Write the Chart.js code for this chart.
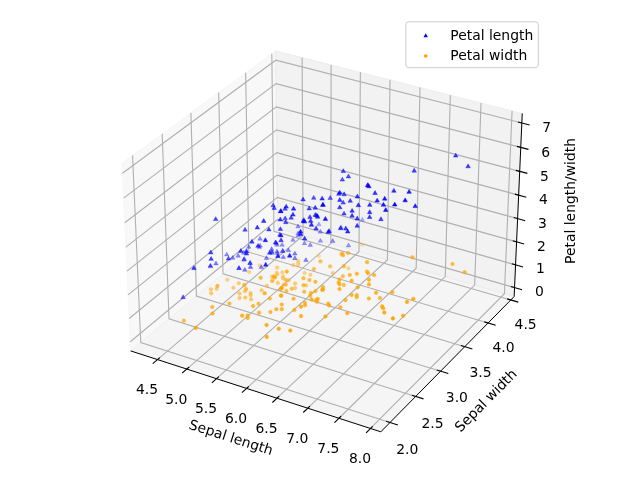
<!DOCTYPE html>
<html>
<head>
<meta charset="utf-8">
<script src="https://cdn.jsdelivr.net/npm/chart.js@4.4.1/dist/chart.umd.min.js"></script>
<style>
  html, body { margin: 0; padding: 0; background: #fff; }
  #wrap { width: 640px; height: 480px; }
</style>
</head>
<body>
<div id="wrap"><canvas id="chart" width="640" height="480"></canvas></div>
<script>
// Iris data set, one entry per flower
const sepalLength = [5.1,4.9,4.7,4.6,5.0,5.4,4.6,5.0,4.4,4.9,5.4,4.8,4.8,4.3,5.8,5.7,5.4,5.1,5.7,5.1,5.4,5.1,4.6,5.1,4.8,5.0,5.0,5.2,5.2,4.7,4.8,5.4,5.2,5.5,4.9,5.0,5.5,4.9,4.4,5.1,5.0,4.5,4.4,5.0,5.1,4.8,5.1,4.6,5.3,5.0,
  7.0,6.4,6.9,5.5,6.5,5.7,6.3,4.9,6.6,5.2,5.0,5.9,6.0,6.1,5.6,6.7,5.6,5.8,6.2,5.6,5.9,6.1,6.3,6.1,6.4,6.6,6.8,6.7,6.0,5.7,5.5,5.5,5.8,6.0,5.4,6.0,6.7,6.3,5.6,5.5,5.5,6.1,5.8,5.0,5.6,5.7,5.7,6.2,5.1,5.7,
  6.3,5.8,7.1,6.3,6.5,7.6,4.9,7.3,6.7,7.2,6.5,6.4,6.8,5.7,5.8,6.4,6.5,7.7,7.7,6.0,6.9,5.6,7.7,6.3,6.7,7.2,6.2,6.1,6.4,7.2,7.4,7.9,6.4,6.3,6.1,7.7,6.3,6.4,6.0,6.9,6.7,6.9,5.8,6.8,6.7,6.7,6.3,6.5,6.2,5.9];
const sepalWidth = [3.5,3.0,3.2,3.1,3.6,3.9,3.4,3.4,2.9,3.1,3.7,3.4,3.0,3.0,4.0,4.4,3.9,3.5,3.8,3.8,3.4,3.7,3.6,3.3,3.4,3.0,3.4,3.5,3.4,3.2,3.1,3.4,4.1,4.2,3.1,3.2,3.5,3.6,3.0,3.4,3.5,2.3,3.2,3.5,3.8,3.0,3.8,3.2,3.7,3.3,
  3.2,3.2,3.1,2.3,2.8,2.8,3.3,2.4,2.9,2.7,2.0,3.0,2.2,2.9,2.9,3.1,3.0,2.7,2.2,2.5,3.2,2.8,2.5,2.8,2.9,3.0,2.8,3.0,2.9,2.6,2.4,2.4,2.7,2.7,3.0,3.4,3.1,2.3,3.0,2.5,2.6,3.0,2.6,2.3,2.7,3.0,2.9,2.9,2.5,2.8,
  3.3,2.7,3.0,2.9,3.0,3.0,2.5,2.9,2.5,3.6,3.2,2.7,3.0,2.5,2.8,3.2,3.0,3.8,2.6,2.2,3.2,2.8,2.8,2.7,3.3,3.2,2.8,3.0,2.8,3.0,2.8,3.8,2.8,2.8,2.6,3.0,3.4,3.1,3.0,3.1,3.1,3.1,2.7,3.2,3.3,3.0,2.5,3.0,3.4,3.0];
const petalLength = [1.4,1.4,1.3,1.5,1.4,1.7,1.4,1.5,1.4,1.5,1.5,1.6,1.4,1.1,1.2,1.5,1.3,1.4,1.7,1.5,1.7,1.5,1.0,1.7,1.9,1.6,1.6,1.5,1.4,1.6,1.6,1.5,1.5,1.4,1.5,1.2,1.3,1.4,1.3,1.5,1.3,1.3,1.3,1.6,1.9,1.4,1.6,1.4,1.5,1.4,
  4.7,4.5,4.9,4.0,4.6,4.5,4.7,3.3,4.6,3.9,3.5,4.2,4.0,4.7,3.6,4.4,4.5,4.1,4.5,3.9,4.8,4.0,4.9,4.7,4.3,4.4,4.8,5.0,4.5,3.5,3.8,3.7,3.9,5.1,4.5,4.5,4.7,4.4,4.1,4.0,4.4,4.6,4.0,3.3,4.2,4.2,4.2,4.3,3.0,4.1,
  6.0,5.1,5.9,5.6,5.8,6.6,4.5,6.3,5.8,6.1,5.1,5.3,5.5,5.0,5.1,5.3,5.5,6.7,6.9,5.0,5.7,4.9,6.7,4.9,5.7,6.0,4.8,4.9,5.6,5.8,6.1,6.4,5.6,5.1,5.6,6.1,5.6,5.5,4.8,5.4,5.6,5.1,5.1,5.9,5.7,5.2,5.0,5.2,5.4,5.1];
const petalWidth = [0.2,0.2,0.2,0.2,0.2,0.4,0.3,0.2,0.2,0.1,0.2,0.2,0.1,0.1,0.2,0.4,0.4,0.3,0.3,0.3,0.2,0.4,0.2,0.5,0.2,0.2,0.4,0.2,0.2,0.2,0.2,0.4,0.1,0.2,0.2,0.2,0.2,0.1,0.2,0.2,0.3,0.3,0.2,0.6,0.4,0.3,0.2,0.2,0.2,0.2,
  1.4,1.5,1.5,1.3,1.5,1.3,1.6,1.0,1.3,1.4,1.0,1.5,1.0,1.4,1.3,1.4,1.5,1.0,1.5,1.1,1.8,1.3,1.5,1.2,1.3,1.4,1.4,1.7,1.5,1.0,1.1,1.0,1.2,1.6,1.5,1.6,1.5,1.3,1.3,1.3,1.2,1.4,1.2,1.0,1.3,1.2,1.3,1.3,1.1,1.3,
  2.5,1.9,2.1,1.8,2.2,2.1,1.7,1.8,1.8,2.5,2.0,1.9,2.1,2.0,2.4,2.3,1.8,2.2,2.3,1.5,2.3,2.0,2.0,1.8,2.1,1.8,1.8,1.8,2.1,1.6,1.9,2.0,2.2,1.5,1.4,2.3,2.4,1.8,1.8,2.1,2.4,2.3,1.9,2.3,2.5,2.3,1.9,2.0,2.3,1.8];

const seriesNames = ['Petal length', 'Petal width'];
const xTicks = [4.5, 5.0, 5.5, 6.0, 6.5, 7.0, 7.5, 8.0];
const yTicks = [2.0, 2.5, 3.0, 3.5, 4.0, 4.5];
const zTicks = [0, 1, 2, 3, 4, 5, 6, 7];

// pane extents (axis limits plus matplotlib's small view margin)
const xLim = [4.0375, 8.1625];
const yLim = [1.825, 4.575];
const zLim = [-0.396, 7.396];

// view like matplotlib's default 3D camera
const ELEV = 30, AZIM = -60, DIST = 10;
const BOX = [4, 4, 3].map(v => v * 1.8294640721620434 / Math.sqrt(41));
const SCALE = 2544, CX = 325.9, CY = 232.4;

const er = ELEV * Math.PI / 180, ar = AZIM * Math.PI / 180;
const nV = [Math.cos(er) * Math.cos(ar), Math.cos(er) * Math.sin(ar), Math.sin(er)];
let uV = [-nV[1], nV[0], 0];
const ul = Math.hypot(uV[0], uV[1]);
uV = uV.map(v => v / ul);
const vV = [nV[1] * uV[2] - nV[2] * uV[1], nV[2] * uV[0] - nV[0] * uV[2], nV[0] * uV[1] - nV[1] * uV[0]];
const dot = (a, b) => a[0] * b[0] + a[1] * b[1] + a[2] * b[2];

function proj(x, y, z) {
  const d = [
    (x - xLim[0]) / (xLim[1] - xLim[0]) * BOX[0] - BOX[0] / 2,
    (y - yLim[0]) / (yLim[1] - yLim[0]) * BOX[1] - BOX[1] / 2,
    (z - zLim[0]) / (zLim[1] - zLim[0]) * BOX[2] - BOX[2] / 2
  ];
  const w = DIST - dot(nV, d);
  return { x: dot(uV, d) / w, y: dot(vV, d) / w, depth: w };
}

function makePoints(zs, rgb) {
  const pts = zs.map((z, i) => proj(sepalLength[i], sepalWidth[i], z));
  const dmin = Math.min(...pts.map(p => p.depth));
  const dmax = Math.max(...pts.map(p => p.depth));
  pts.forEach(p => { p.alpha = 1 - 0.7 * (p.depth - dmin) / (dmax - dmin); });
  pts.sort((a, b) => b.depth - a.depth);
  return {
    data: pts.map(p => ({ x: p.x, y: p.y })),
    colors: pts.map(p => `rgba(${rgb},${p.alpha.toFixed(3)})`)
  };
}

const lenPts = makePoints(petalLength, '0,0,255');
const widPts = makePoints(petalWidth, '255,165,0');

const FS = 13.9;
const FONT = FS + 'px "DejaVu Sans"';
const DIGIT_MID = 0.36 * FS;   // half the height of a digit
const LINE_MID = 0.262 * FS;   // middle between ascender and descender

const axes3d = {
  id: 'axes3d',
  beforeDatasetsDraw(chart) {
    const ctx = chart.ctx, sx = chart.scales.x, sy = chart.scales.y;
    const P = (x, y, z) => {
      const p = proj(x, y, z);
      return [sx.getPixelForValue(p.x), sy.getPixelForValue(p.y)];
    };
    const [x0, x1] = xLim, [y0, y1] = yLim, [z0, z1] = zLim;
    const xr = x1 - x0, yr = y1 - y0;
    const poly = (pts, fill, stroke, lw) => {
      ctx.beginPath();
      pts.forEach((p, i) => { const q = P(...p); i ? ctx.lineTo(q[0], q[1]) : ctx.moveTo(q[0], q[1]); });
      if (fill) { ctx.closePath(); ctx.fillStyle = fill; ctx.fill(); }
      if (stroke) { ctx.strokeStyle = stroke; ctx.lineWidth = lw; ctx.stroke(); }
    };
    ctx.save();
    // panes
    poly([[x0, y0, z0], [x0, y1, z0], [x0, y1, z1], [x0, y0, z1]], 'rgba(242,242,242,0.5)', 'rgba(242,242,242,0.5)', 1);
    poly([[x0, y1, z0], [x1, y1, z0], [x1, y1, z1], [x0, y1, z1]], 'rgba(230,230,230,0.5)', 'rgba(230,230,230,0.5)', 1);
    poly([[x0, y0, z0], [x1, y0, z0], [x1, y1, z0], [x0, y1, z0]], 'rgba(236,236,236,0.5)', 'rgba(236,236,236,0.5)', 1);
    // grid
    xTicks.forEach(v => poly([[v, y0, z0], [v, y1, z0], [v, y1, z1]], null, '#b0b0b0', 1.1));
    yTicks.forEach(v => poly([[x1, v, z0], [x0, v, z0], [x0, v, z1]], null, '#b0b0b0', 1.1));
    zTicks.forEach(v => poly([[x0, y0, v], [x0, y1, v], [x1, y1, v]], null, '#b0b0b0', 1.1));
    // axis lines
    poly([[x0, y0, z0], [x1, y0, z0]], null, '#000', 1);
    poly([[x1, y0, z0], [x1, y1, z0]], null, '#000', 1);
    poly([[x1, y1, z0], [x1, y1, z1]], null, '#000', 1);
    // tick marks
    xTicks.forEach(v => poly([[v, y0 + 0.015 * yr, z0], [v, y0 - 0.03 * yr, z0]], null, '#000', 1.1));
    yTicks.forEach(v => poly([[x1 - 0.015 * xr, v, z0], [x1 + 0.03 * xr, v, z0]], null, '#000', 1.1));
    zTicks.forEach(v => poly([[x1 - 0.015 * xr, y1, v], [x1 + 0.03 * xr, y1, v]], null, '#000', 1.1));
    // tick labels (positions are the visual centres of the text)
    ctx.fillStyle = '#000';
    ctx.font = FONT;
    ctx.textAlign = 'center';
    ctx.textBaseline = 'alphabetic';
    const num = (t, cx, cy) => ctx.fillText(t, cx, cy + DIGIT_MID);
    xTicks.forEach(v => { const q = P(v, y0, z0); num(v.toFixed(1), q[0] - 10.5, q[1] + 29.7); });
    yTicks.forEach(v => {
      const q = P(x1, v, z0), f = (v - yTicks[0]) / (yTicks[yTicks.length - 1] - yTicks[0]);
      num(v.toFixed(1), q[0] + 17.3 - 2.5 * f, q[1] + 26.7 - 2.8 * f);
    });
    zTicks.forEach(v => {
      const q = P(x1, y1, v), f = (v - zTicks[0]) / (zTicks[zTicks.length - 1] - zTicks[0]);
      num(String(v), q[0] + 24.8, q[1] + 3.5 + 0.9 * f);
    });
    // axis titles
    const label = (text, a, b, dx, dy, rot) => {
      const m = [(a[0] + b[0]) / 2, (a[1] + b[1]) / 2];
      const ang = rot !== undefined ? rot : Math.atan2(b[1] - a[1], b[0] - a[0]);
      ctx.save();
      ctx.translate(m[0] + dx, m[1] + dy);
      ctx.rotate(ang);
      ctx.fillText(text, 0, LINE_MID);
      ctx.restore();
    };
    label('Sepal length', P(x0, y0, z0), P(x1, y0, z0), -25, 47);
    label('Sepal width', P(x1, y0, z0), P(x1, y1, z0), 39, 37);
    label('Petal length/width', P(x1, y1, z0), P(x1, y1, z1), 53, -4, -Math.PI / 2);
    ctx.restore();
  },
  afterDraw(chart) {
    const ctx = chart.ctx;
    ctx.save();
    // legend box
    const bx = 405.8, by = 21.8, bw = 132.5, bh = 45.9, r = 3;
    ctx.beginPath();
    ctx.moveTo(bx + r, by);
    ctx.arcTo(bx + bw, by, bx + bw, by + bh, r);
    ctx.arcTo(bx + bw, by + bh, bx, by + bh, r);
    ctx.arcTo(bx, by + bh, bx, by, r);
    ctx.arcTo(bx, by, bx + bw, by, r);
    ctx.closePath();
    ctx.fillStyle = 'rgba(255,255,255,0.8)';
    ctx.fill();
    ctx.strokeStyle = '#cccccc';
    ctx.lineWidth = 1;
    ctx.stroke();
    // markers
    ctx.fillStyle = 'blue';
    ctx.beginPath();
    ctx.moveTo(425.7, 33.3); ctx.lineTo(427.9, 37.2); ctx.lineTo(423.5, 37.2); ctx.closePath();
    ctx.fill();
    ctx.fillStyle = 'orange';
    ctx.beginPath();
    ctx.arc(425.7, 56, 1.8, 0, Math.PI * 2);
    ctx.fill();
    ctx.fillStyle = '#000';
    ctx.font = FONT;
    ctx.textAlign = 'left';
    ctx.textBaseline = 'alphabetic';
    ctx.fillText(seriesNames[0], 450.3, 39.5);
    ctx.fillText(seriesNames[1], 450.3, 60);
    ctx.restore();
  }
};

new Chart(document.getElementById('chart'), {
  type: 'scatter',
  data: {
    datasets: [
      { label: seriesNames[0], data: lenPts.data, pointStyle: 'triangle', pointRadius: 2.6,
        pointBackgroundColor: lenPts.colors, pointBorderColor: lenPts.colors, pointBorderWidth: 0.5 },
      { label: seriesNames[1], data: widPts.data, pointStyle: 'circle', pointRadius: 1.8,
        pointBackgroundColor: widPts.colors, pointBorderColor: widPts.colors, pointBorderWidth: 0.5 }
    ]
  },
  options: {
    responsive: false, animation: false, devicePixelRatio: 1, events: [], clip: false,
    layout: { padding: 0 },
    plugins: { legend: { display: false }, tooltip: { enabled: false } },
    scales: {
      x: { type: 'linear', display: false, min: -CX / SCALE, max: (640 - CX) / SCALE },
      y: { type: 'linear', display: false, min: -(480 - CY) / SCALE, max: CY / SCALE }
    }
  },
  plugins: [axes3d]
});
</script>
</body>
</html>
